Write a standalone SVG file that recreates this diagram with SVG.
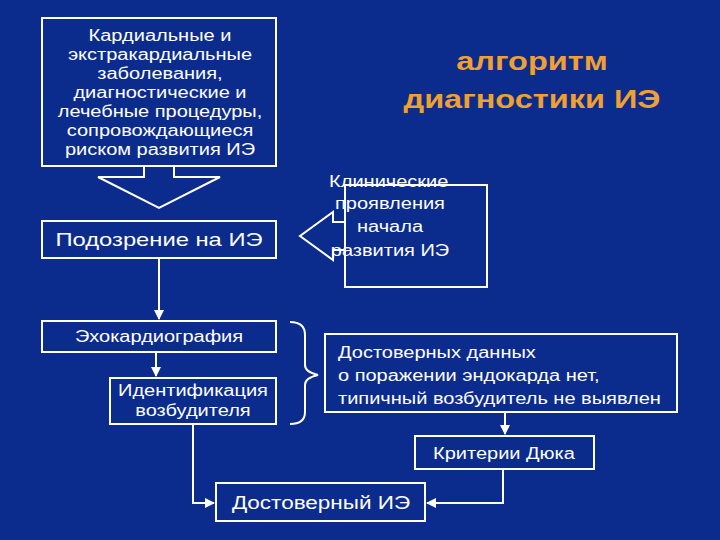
<svg xmlns="http://www.w3.org/2000/svg" width="720" height="540" viewBox="0 0 720 540">
<style>
.b{fill:none;stroke:#fff;stroke-width:2}
.t{fill:#fff;font-family:"Liberation Sans",Arial,sans-serif;font-size:16px;text-anchor:middle}
.l{stroke:#fff;stroke-width:2;fill:none}
</style>
<defs><marker id="a" viewBox="0 0 10 10" refX="9" refY="5" markerWidth="5" markerHeight="5" orient="auto"><path d="M0,0L10,5L0,10z" fill="#fff"/></marker></defs>
<rect width="720" height="540" fill="#0B2C8C"/>
<g transform="translate(532,0) scale(1.25,1) translate(-532,0)" font-family="Liberation Sans,Arial,sans-serif" font-size="26" font-weight="bold" fill="#F0A030" text-anchor="middle">
<text x="532" y="70">алгоритм</text>
<text x="532" y="108">диагностики ИЭ</text></g>
<g id="n1"><rect class="b" x="42" y="18" width="234" height="148"/>
<g class="t" transform="translate(160,0) scale(1.25,1) translate(-160,0)">
<text x="160" y="41">Кардиальные и</text><text x="160" y="60">экстракардиальные</text><text x="160" y="79">заболевания,</text><text x="160" y="98">диагностические и</text><text x="160" y="117">лечебные процедуры,</text><text x="160" y="136">сопровождающиеся</text><text x="160" y="155">риском развития ИЭ</text></g></g>
<g id="n2"><rect class="b" x="42" y="221" width="234" height="37"/><text class="t" style="font-size:19px" transform="translate(159,0) scale(1.25,1) translate(-159,0)" x="159" y="246">Подозрение на ИЭ</text></g>
<g id="n3"><rect class="b" x="345" y="185" width="142" height="102"/>
<g class="t" transform="translate(390,0) scale(1.25,1) translate(-390,0)">
<text x="389" y="187">Клинические</text><text x="390" y="209">проявления</text><text x="390" y="232">начала</text><text x="390" y="256">развития ИЭ</text></g></g>
<g id="n4"><rect class="b" x="42" y="321" width="234" height="31"/><text class="t" transform="translate(159,0) scale(1.25,1) translate(-159,0)" x="159" y="342">Эхокардиография</text></g>
<g id="n5"><rect class="b" x="110" y="378" width="166" height="46"/><g class="t" transform="translate(193,0) scale(1.25,1) translate(-193,0)"><text x="193" y="396">Идентификация</text><text x="193" y="416">возбудителя</text></g></g>
<g id="n6"><rect class="b" x="325" y="334" width="352" height="78"/>
<g class="t" style="text-anchor:start" transform="translate(338,0) scale(1.25,1) translate(-338,0)"><text x="338" y="358">Достоверных данных</text><text x="338" y="381">о поражении эндокарда нет,</text><text x="338" y="404">типичный возбудитель не выявлен</text></g></g>
<g id="n7"><rect class="b" x="415" y="436" width="179" height="33"/><text class="t" transform="translate(504,0) scale(1.25,1) translate(-504,0)" x="504" y="459">Критерии Дюка</text></g>
<g id="n8"><rect class="b" x="216" y="483" width="209" height="38"/><text class="t" style="font-size:18px" transform="translate(321,0) scale(1.25,1) translate(-321,0)" x="321" y="509">Достоверный ИЭ</text></g>
<g id="connectors">
<path class="l" d="M144,166V177H98L159,208L220,177H174V166"/>
<path class="l" d="M345,222H333V212L300,236L333,260V250H345"/>
<path class="l" d="M159,258V319" marker-end="url(#a)"/>
<path class="l" d="M156,352V376" marker-end="url(#a)"/>
<path class="l" d="M290,322Q305,322 305,335V365Q305,372 318,375Q305,378 305,385V412Q305,424 290,424"/>
<path class="l" d="M505,412V434" marker-end="url(#a)"/>
<path class="l" d="M193,424V503H214" marker-end="url(#a)"/>
<path class="l" d="M503,469V503H427" marker-end="url(#a)"/>
</g>
</svg>
